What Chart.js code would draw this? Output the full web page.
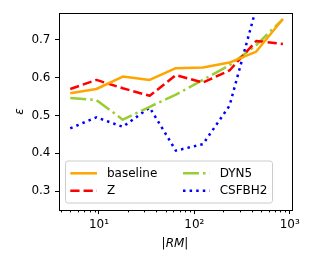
<!DOCTYPE html>
<html>
<head>
<meta charset="utf-8">
<script src="https://cdn.jsdelivr.net/npm/chart.js@4.4.1/dist/chart.umd.min.js"></script>
<style>
  html, body { margin: 0; padding: 0; background: #fff; }
  canvas { display: block; }
</style>
</head>
<body>
<canvas id="chart" width="315" height="270"></canvas>
<script>
// |RM| bin centres and epsilon per model
const rmBins = [5, 9.4, 17.8, 34, 64, 123, 234, 446, 849];
const baseline = [0.559, 0.570, 0.603, 0.594, 0.625, 0.627, 0.640, 0.669, 0.755];
const zSeries = [0.570, 0.594, 0.572, 0.552, 0.607, 0.587, 0.619, 0.697, 0.689];
const dyn5 = [0.546, 0.541, 0.489, 0.523, 0.555, 0.594, 0.633, 0.686, 0.755];
const csfbh2 = [0.466, 0.495, 0.470, 0.521, 0.407, 0.424, 0.526, 0.785, 0.95];

const yTicks = [0.3, 0.4, 0.5, 0.6, 0.7];
const xMajorTicks = [10, 100, 1000];
const xMajorLabels = { 10: '10¹', 100: '10²', 1000: '10³' };
const xRange = [3.81, 1057];
const yRange = [0.25, 0.771];

const FONT = "'DejaVu Sans', sans-serif";
const LW = 2.5;

// minor + major log ticks inside the range
function buildLogTicks() {
    const ticks = [];
    [1, 10, 100, 1000].forEach(decade => {
        for (let m = 1; m <= 9; m++) {
            const v = m * decade;
            if (v >= xRange[0] && v <= xRange[1]) {
                ticks.push({ value: v, major: xMajorTicks.includes(v) });
            }
        }
    });
    return ticks;
}

function series(label, values, color, dash) {
    return {
        label: label,
        data: rmBins.map((x, i) => ({ x: x, y: values[i] })),
        borderColor: color,
        backgroundColor: color,
        borderWidth: LW,
        borderDash: dash,
        borderCapStyle: 'butt',
        borderJoinStyle: 'round',
        pointRadius: 0,
        tension: 0,
        fill: false,
        clip: 0
    };
}

const datasets = [
    series('baseline', baseline, '#ffa500', []),
    series('Z', zSeries, '#ff0000', [9.25, 4]),
    series('DYN5', dyn5, '#9acd32', [16, 4, 2.5, 4]),
    series('CSFBH2', csfbh2, '#0000ff', [2.5, 4.1])
];

// Frame, minor ticks, axis titles and the in-axes legend
const decorPlugin = {
    id: 'decor',
    afterDraw(chart) {
        const ctx = chart.ctx;
        const a = chart.chartArea;
        const xs = chart.scales.x;

        ctx.save();
        // minor ticks
        ctx.strokeStyle = '#000';
        ctx.lineWidth = 1;
        xs.ticks.filter(t => !t.major).forEach(t => {
            const px = Math.round(xs.getPixelForValue(t.value)) + 0.5;
            ctx.beginPath();
            ctx.moveTo(px, a.bottom);
            ctx.lineTo(px, a.bottom + 2.4);
            ctx.stroke();
        });

        // frame
        ctx.strokeRect(Math.round(a.left) + 0.5, Math.round(a.top) + 0.5,
            Math.round(a.right - a.left), Math.round(a.bottom - a.top));

        // legend box
        const lx = 65.5, ly = 161, lw = 207, lh = 42, r = 2.4;
        ctx.beginPath();
        ctx.moveTo(lx + r, ly);
        ctx.arcTo(lx + lw, ly, lx + lw, ly + lh, r);
        ctx.arcTo(lx + lw, ly + lh, lx, ly + lh, r);
        ctx.arcTo(lx, ly + lh, lx, ly, r);
        ctx.arcTo(lx, ly, lx + lw, ly, r);
        ctx.closePath();
        ctx.fillStyle = 'rgba(255,255,255,0.8)';
        ctx.fill();
        ctx.strokeStyle = '#cccccc';
        ctx.lineWidth = 1;
        ctx.stroke();

        const slots = [
            { x: 70.3, y: 173.3 }, { x: 70.3, y: 190.7 },
            { x: 183, y: 173.3 }, { x: 183, y: 190.7 }
        ];
        ctx.font = '12px ' + FONT;
        ctx.textBaseline = 'middle';
        ctx.textAlign = 'left';
        chart.data.datasets.forEach((ds, i) => {
            const s = slots[i];
            ctx.save();
            ctx.strokeStyle = ds.borderColor;
            ctx.lineWidth = LW;
            ctx.lineCap = 'butt';
            ctx.setLineDash(ds.borderDash);
            ctx.beginPath();
            ctx.moveTo(s.x, s.y);
            ctx.lineTo(s.x + 26.7, s.y);
            ctx.stroke();
            ctx.restore();
            ctx.fillStyle = '#000';
            ctx.fillText(ds.label, s.x + 36.7, s.y + 0.5);
        });

        // y title
        ctx.save();
        ctx.translate(20, (a.top + a.bottom) / 2);
        ctx.rotate(-Math.PI / 2);
        ctx.font = 'italic 12px ' + FONT;
        ctx.textAlign = 'center';
        ctx.textBaseline = 'middle';
        ctx.fillText('ε', 0, 0);
        ctx.restore();

        // x title: |RM| with italic RM
        const parts = [['|', ''], ['RM', 'italic '], ['|', '']];
        const widths = parts.map(p => { ctx.font = p[1] + '12px ' + FONT; return ctx.measureText(p[0]).width; });
        let cx = 175 - widths.reduce((s, w) => s + w, 0) / 2;
        ctx.textBaseline = 'alphabetic';
        ctx.fillStyle = '#000';
        parts.forEach((p, i) => {
            ctx.font = p[1] + '12px ' + FONT;
            ctx.fillText(p[0], cx, 247.3);
            cx += widths[i];
        });
        ctx.restore();
    }
};

new Chart(document.getElementById('chart'), {
    type: 'line',
    data: { datasets: datasets },
    options: {
        responsive: false,
        animation: false,
        devicePixelRatio: 1,
        layout: { padding: { top: 13, right: 23, left: 0, bottom: 0 } },
        plugins: {
            legend: { display: false },
            title: { display: false },
            tooltip: { enabled: false }
        },
        scales: {
            x: {
                type: 'logarithmic',
                min: xRange[0],
                max: xRange[1],
                afterBuildTicks: scale => { scale.ticks = buildLogTicks(); },
                afterFit: scale => { scale.height = 60; },
                border: { display: false },
                grid: {
                    drawOnChartArea: false,
                    drawTicks: true,
                    tickLength: 4,
                    lineWidth: 1,
                    color: c => (c.tick && c.tick.major) ? '#000' : 'rgba(0,0,0,0)'
                },
                ticks: {
                    autoSkip: false,
                    maxRotation: 0,
                    padding: 4,
                    color: '#000',
                    font: { family: FONT, size: 12 },
                    callback: value => xMajorLabels[value] || ''
                }
            },
            y: {
                min: yRange[0],
                max: yRange[1],
                afterBuildTicks: scale => { scale.ticks = yTicks.map(v => ({ value: v })); },
                afterFit: scale => { scale.width = 59; },
                border: { display: false },
                grid: {
                    drawOnChartArea: false,
                    drawTicks: true,
                    tickLength: 4,
                    lineWidth: 1,
                    color: '#000'
                },
                ticks: {
                    padding: 4.5,
                    color: '#000',
                    font: { family: FONT, size: 12 },
                    callback: value => value.toFixed(1)
                }
            }
        }
    },
    plugins: [decorPlugin]
});
</script>
</body>
</html>
